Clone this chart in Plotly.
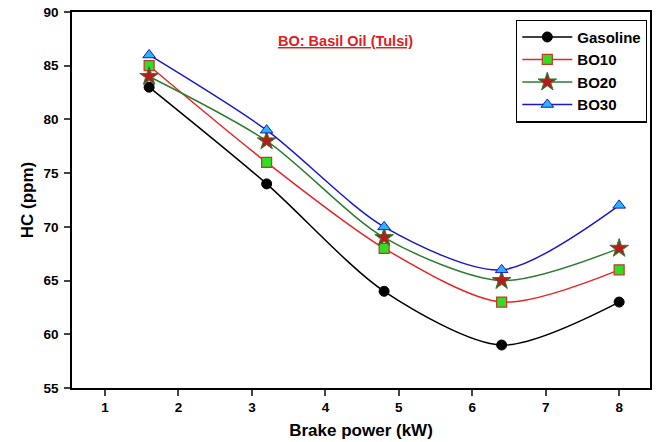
import plotly.graph_objects as go

brake_power = [1.6, 3.2, 4.8, 6.4, 8.0]
gasoline = [83, 74, 64, 59, 63]
bo10 = [85, 76, 68, 63, 66]
bo20 = [84, 78, 69, 65, 68]
bo30 = [86, 79, 70, 66, 72]

x_ticks = [1, 2, 3, 4, 5, 6, 7, 8]
y_ticks = [55, 60, 65, 70, 75, 80, 85, 90]

series = [
    ("Gasoline", gasoline, "black", dict(symbol="circle", size=10, color="black", line=dict(color="black", width=1))),
    ("BO10", bo10, "#e8262a", dict(symbol="square", size=10, color="#33dd22", line=dict(color="#c0392b", width=1.2))),
    ("BO20", bo20, "#2e7d32", dict(symbol="star", size=14, color="#b71c1c", line=dict(color="#2e7d32", width=1))),
    ("BO30", bo30, "#1a1acc", dict(symbol="triangle-up", size=11, color="#29b6f6", line=dict(color="#1a1acc", width=1))),
]

fig = go.Figure()
for name, vals, lc, mk in series:
    fig.add_trace(go.Scatter(
        x=brake_power, y=vals, name=name, mode="lines+markers",
        line=dict(color=lc, width=1.5, shape="spline", smoothing=0.8),
        marker=mk,
    ))

font_family = "Liberation Sans, Arial, sans-serif"
fig.update_layout(
    width=657, height=442,
    margin=dict(l=72, r=5, t=11, b=54),
    paper_bgcolor="white", plot_bgcolor="white",
    font=dict(family=font_family, color="black"),
    showlegend=True,
    legend=dict(
        x=0.995, y=0.98, xanchor="right", yanchor="top",
        bordercolor="black", borderwidth=1.2, bgcolor="white",
        font=dict(size=15, family=font_family, color="black", weight="bold"),
        itemwidth=50, tracegroupgap=0,
    ),
    annotations=[dict(
        text="<u><b>BO: Basil Oil (Tulsi)</b></u>",
        x=0.474, y=0.95, xref="paper", yref="paper", showarrow=False,
        font=dict(size=14.5, color="#e02020", family=font_family),
    )],
)
fig.update_xaxes(
    range=[0.55, 8.42], tickvals=x_ticks, ticks="outside", ticklen=6, tickwidth=1.5,
    showline=True, linecolor="black", linewidth=1.5, mirror=True, showgrid=False, zeroline=False,
    tickfont=dict(size=13.5, family=font_family, color="black", weight="bold"),
    title=dict(text="<b>Brake power (kW)</b>", font=dict(size=17, family=font_family, color="black"), standoff=10),
)
fig.update_yaxes(
    range=[55, 90], tickvals=y_ticks, ticks="outside", ticklen=6, tickwidth=1.5,
    showline=True, linecolor="black", linewidth=1.5, mirror=True, showgrid=False, zeroline=False,
    ticklabelstandoff=3,
    tickfont=dict(size=13.5, family=font_family, color="black", weight="bold"),
    title=dict(text="<b>HC (ppm)</b>", font=dict(size=17, family=font_family, color="black"), standoff=6),
)

fig.write_html("out.html")
